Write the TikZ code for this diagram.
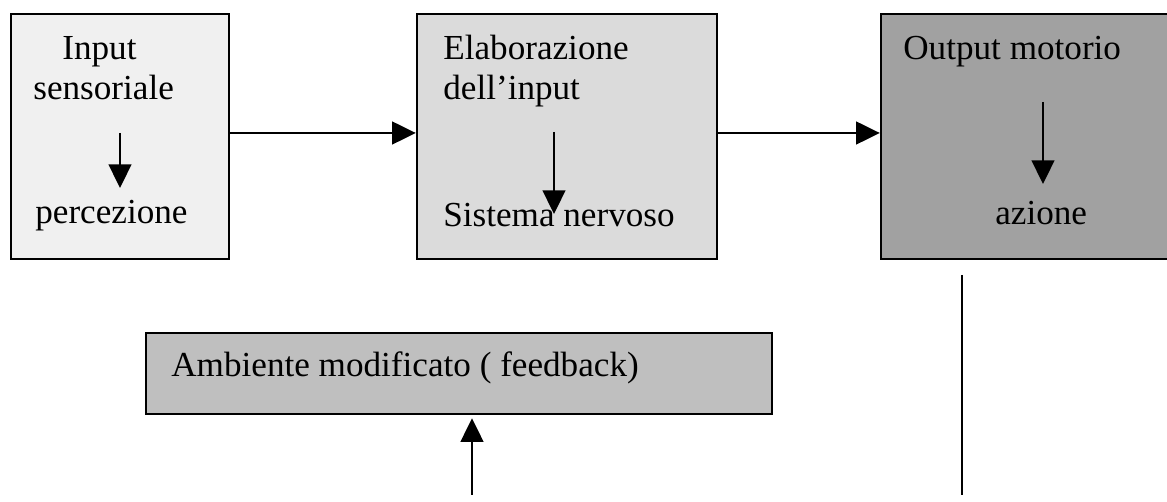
\documentclass[tikz,border=0pt]{standalone}
\usepackage{fontspec}
\setmainfont{Liberation Serif}
\usepackage{tikz}
\usetikzlibrary{arrows.meta,positioning}

\definecolor{boxone}{gray}{0.94}
\definecolor{boxtwo}{gray}{0.86}
\definecolor{boxthree}{gray}{0.63}
\definecolor{boxfb}{gray}{0.75}

\begin{document}
\begin{tikzpicture}[x=0.02cm,y=-0.02cm]
  \tikzstyle{blockbox}=[rectangle,draw=black,line width=1.4pt,inner sep=0pt,minimum height=4.9cm]
  \tikzstyle{label}=[inner sep=0pt,anchor=base west,font=\fontsize{20}{24}\selectfont]
  \tikzstyle{arr}=[-{Triangle[length=13.5pt,width=13pt]},line width=1.1pt]
  \useasboundingbox (0,0) rectangle (1167,502);

  % boxes
  \node[blockbox, fill=boxone, minimum width=4.36cm] (inbox) at (120,136.5) {};
  \node[blockbox, fill=boxtwo, minimum width=6cm] (elab) at (567,136.5) {};
  \node[blockbox, fill=boxthree, minimum width=5.88cm] (outbox) at (1028,136.5) {};
  \node[blockbox, fill=boxfb, minimum width=12.52cm, minimum height=1.62cm] (amb) at (459,373.5) {};

  % texts
  \node[label] (tinput) at (62,60) {Input};
  \node[label] (tsens) at (33,100) {sensoriale};
  \node[label] (tperc) at (35,224) {percezione};
  \node[label] (telab) at (443,60) {Elaborazione};
  \node[label] (tdell) at (443,100) {dell’input};
  \node[label] (tsist) at (443,227) {Sistema nervoso};
  \node[label] (tout) at (903,60) {Output motorio};
  \node[label] (tazio) at (995,225) {azione};
  \node[label] (tamb) at (171,377) {Ambiente modificato ( feedback)};

  % inner arrows
  \coordinate (a1) at (120,133);
  \coordinate (a2) at (120,188);
  \coordinate (b1) at (554,132);
  \coordinate (b2) at (554,214);
  \coordinate (c1) at (1043,102);
  \coordinate (c2) at (1043,184);
  \draw[arr] (a1) -- (a2);
  \draw[arr] (b1) -- (b2);
  \draw[arr] (c1) -- (c2);

  % edges
  \draw[arr] ([yshift=0.07cm]inbox.east) -- ([yshift=0.07cm]elab.west);
  \draw[arr] ([yshift=0.07cm]elab.east) -- ([yshift=0.07cm]outbox.west);

  \coordinate (fbtail) at (472,495);
  \draw[arr] (fbtail) -- ([yshift=-0.06cm]fbtail |- amb.south);

  \coordinate (vtop) at (962,275);
  \coordinate (vbot) at (962,495);
  \draw[line width=1.1pt] (vtop) -- (vbot);

\end{tikzpicture}
\end{document}
